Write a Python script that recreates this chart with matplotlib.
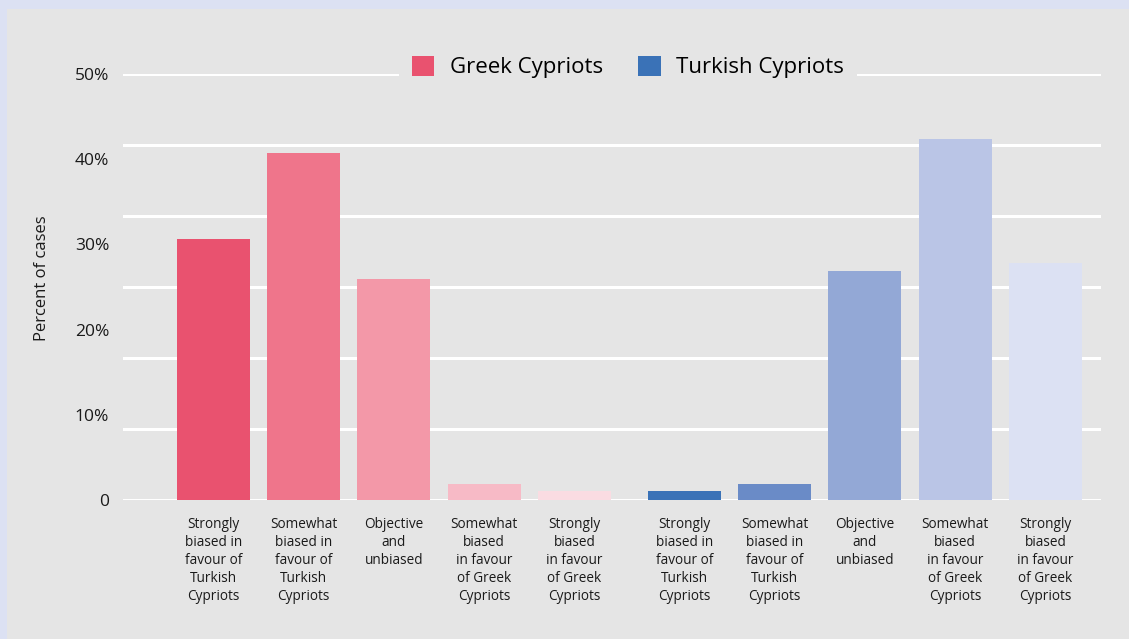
import numpy as np
import matplotlib.pyplot as plt
from matplotlib.patches import Rectangle

plt.rcParams['font.family'] = ['Open Sans', 'DejaVu Sans']

# Perceived bias of news coverage, percent of cases
categories = [
    'Strongly\nbiased in\nfavour of\nTurkish\nCypriots',
    'Somewhat\nbiased in\nfavour of\nTurkish\nCypriots',
    'Objective\nand\nunbiased',
    'Somewhat\nbiased\nin favour\nof Greek\nCypriots',
    'Strongly\nbiased\nin favour\nof Greek\nCypriots',
]
greek = [30.6, 40.7, 25.9, 1.9, 1.0]
turkish = [1.0, 1.9, 26.9, 42.4, 27.8]
yticks = [0, 10, 20, 30, 40, 50]
ytick_labels = ['0', '10%', '20%', '30%', '40%', '50%']

greek_colors = ['#e9526f', '#ef758b', '#f398a8', '#f7bac6', '#fadce2']
turkish_colors = ['#3a72b7', '#6a8bc7', '#93a8d6', '#bac5e6', '#dce1f3']

fig = plt.figure(figsize=(11.29, 6.39), dpi=100, facecolor='#dce1f3')
fig.patches.append(Rectangle((7 / 1129, 0), 1, 1 - 9 / 639,
                             transform=fig.transFigure, facecolor='#e5e5e5',
                             edgecolor='none', zorder=-10))

ax = fig.add_axes([123 / 1129, 1 - 500 / 639, 978 / 1129, 426 / 639])
ax.set_facecolor('none')

n = len(categories)
x_greek = np.arange(n)
x_turkish = np.arange(n) + n + 0.216
width = 0.81

ax.bar(x_greek, greek, width, color=greek_colors, zorder=3, label='Greek Cypriots')
ax.bar(x_turkish, turkish, width, color=turkish_colors, zorder=3, label='Turkish Cypriots')

ax.set_xlim(-1.0, x_turkish[-1] + 0.615)
ax.set_ylim(0, 50)

# labels on major ticks, white grid on minor ticks
ax.set_yticks(yticks)
ax.set_yticklabels(ytick_labels, fontsize=12.5, color='#1a1a1a')
ax.set_yticks(np.linspace(0, 50, 7), minor=True)
ax.yaxis.remove_overlapping_locs = False
ax.grid(False)
ax.grid(True, axis='y', which='minor', color='white', linewidth=2.2, zorder=1)
ax.tick_params(axis='y', which='both', length=0, pad=10)

ax.set_xticks(np.concatenate([x_greek, x_turkish]))
ax.set_xticklabels(categories * 2, fontsize=9.8, linespacing=1.28, color='#1a1a1a', va='top')
ax.tick_params(axis='x', length=0, pad=12)

for s in ax.spines.values():
    s.set_visible(False)

ax.set_ylabel('Percent of cases', fontsize=12, color='#1a1a1a')
ax.yaxis.set_label_coords(-0.075, 0.52)

fig.legend(loc='center', bbox_to_anchor=(628 / 1129, 1 - 67 / 639), ncol=2,
           fontsize=16, frameon=True, facecolor='#e5e5e5', edgecolor='none',
           framealpha=1, fancybox=False, handlelength=1.0, handleheight=1.0,
           handletextpad=0.7, columnspacing=1.6, borderpad=0.6, borderaxespad=0)

fig.savefig('out.png', dpi=100, facecolor=fig.get_facecolor())
